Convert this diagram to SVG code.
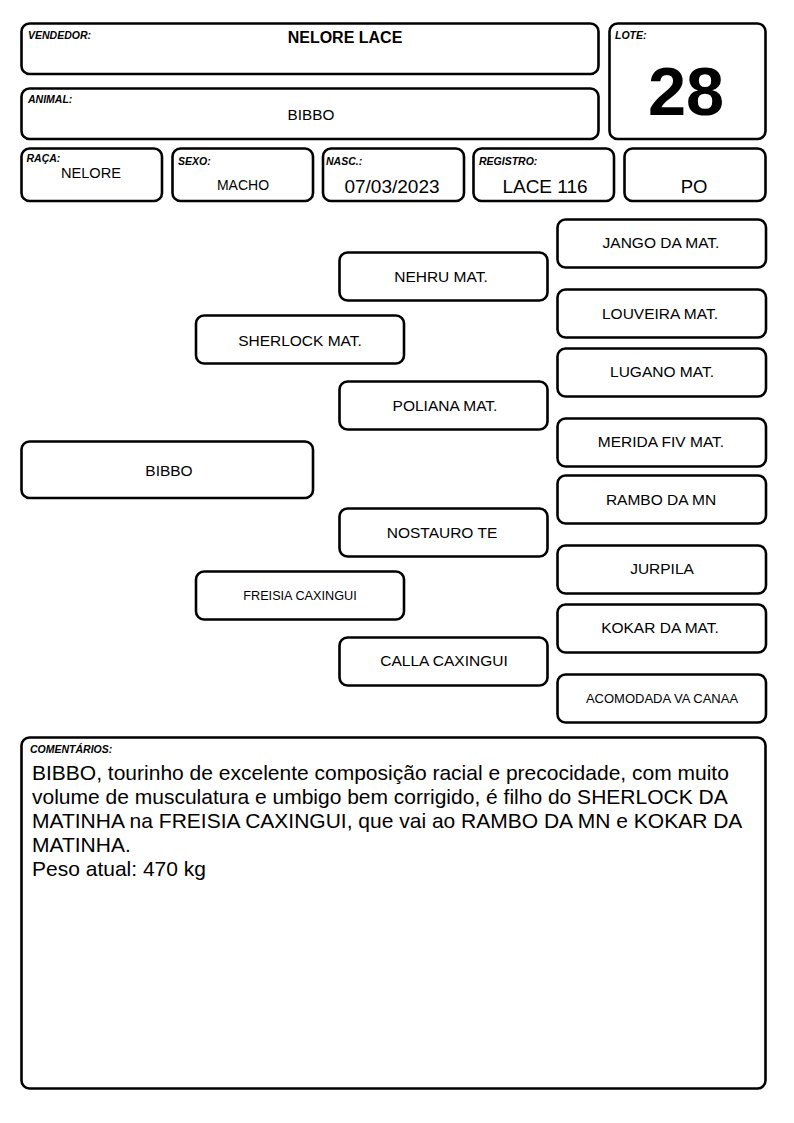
<svg xmlns="http://www.w3.org/2000/svg" width="794" height="1123" viewBox="0 0 794 1123">
<style>
.box{fill:#fff;stroke:#000;stroke-width:2.6}
.lbl{font-family:"Liberation Sans",Arial,sans-serif;font-size:10.5px;font-weight:bold;font-style:italic;fill:#000}
.val{font-family:"Liberation Sans",Arial,sans-serif;fill:#000;text-anchor:middle}
.ped{font-family:"Liberation Sans",Arial,sans-serif;font-size:15.5px;fill:#000;text-anchor:middle}
.sm{font-size:12.7px}
.xs{font-size:13px}
.cm{font-family:"Liberation Sans",Arial,sans-serif;font-size:21px;fill:#000}
</style>
<rect width="794" height="1123" fill="#fff"/>
<g id="vendedor">
<rect class="box" x="21.5" y="23.5" width="577" height="50.5" rx="8"/>
<text class="lbl" x="28" y="38.5">VENDEDOR:</text>
<text class="val" x="345" y="43" font-size="16" font-weight="bold">NELORE LACE</text>
</g>
<g id="animal">
<rect class="box" x="21.5" y="88.5" width="577" height="50.5" rx="8"/>
<text class="lbl" x="28" y="102.5">ANIMAL:</text>
<text class="val" x="311" y="119.5" font-size="15.3">BIBBO</text>
</g>
<g id="lote">
<rect class="box" x="609.5" y="23.5" width="156" height="115.5" rx="8"/>
<text class="lbl" x="615" y="38.5">LOTE:</text>
<text class="val" x="686" y="115" font-size="68.5" font-weight="bold">28</text>
</g>
<g id="raca">
<rect class="box" x="21.5" y="148.5" width="140.5" height="52.5" rx="8"/>
<text class="lbl" x="26.5" y="162">RAÇA:</text>
<text class="val" x="91" y="178" font-size="14.6">NELORE</text>
</g>
<g id="sexo">
<rect class="box" x="172.5" y="148.5" width="140.5" height="52.5" rx="8"/>
<text class="lbl" x="178" y="164.5">SEXO:</text>
<text class="val" x="243" y="189.5" font-size="14">MACHO</text>
</g>
<g id="nasc">
<rect class="box" x="323" y="148.5" width="141" height="52.5" rx="8"/>
<text class="lbl" x="326" y="164.5">NASC.:</text>
<text class="val" x="392" y="192.5" font-size="19">07/03/2023</text>
</g>
<g id="registro">
<rect class="box" x="473.5" y="148.5" width="140.5" height="52.5" rx="8"/>
<text class="lbl" x="479" y="164.5">REGISTRO:</text>
<text class="val" x="545" y="192.5" font-size="19">LACE 116</text>
</g>
<g id="po">
<rect class="box" x="624.5" y="148.5" width="141" height="52.5" rx="8"/>
<text class="val" x="694" y="192.5" font-size="18.5">PO</text>
</g>
<g id="connectors"></g>
<g id="ped-bibbo">
<rect class="box" x="21.5" y="441.5" width="291.5" height="56.5" rx="8"/>
<text class="ped" x="169" y="476">BIBBO</text>
</g>
<g id="ped-sherlock">
<rect class="box" x="196" y="315.5" width="208" height="48" rx="8"/>
<text class="ped" x="300" y="346">SHERLOCK MAT.</text>
</g>
<g id="ped-freisia">
<rect class="box" x="196" y="571.5" width="208" height="48" rx="8"/>
<text class="ped sm" x="300" y="600">FREISIA CAXINGUI</text>
</g>
<g id="ped-nehru">
<rect class="box" x="339.5" y="252.5" width="208" height="48" rx="8"/>
<text class="ped" x="441" y="282">NEHRU MAT.</text>
</g>
<g id="ped-poliana">
<rect class="box" x="339.5" y="381.5" width="208" height="48" rx="8"/>
<text class="ped" x="445" y="411">POLIANA MAT.</text>
</g>
<g id="ped-nostauro">
<rect class="box" x="339.5" y="508.5" width="208" height="48" rx="8"/>
<text class="ped" x="442" y="538">NOSTAURO TE</text>
</g>
<g id="ped-calla">
<rect class="box" x="339.5" y="637.5" width="208" height="48" rx="8"/>
<text class="ped" x="444" y="666">CALLA CAXINGUI</text>
</g>
<g id="ped-jango">
<rect class="box" x="557.5" y="219.5" width="208.5" height="48" rx="8"/>
<text class="ped" x="661" y="248">JANGO DA MAT.</text>
</g>
<g id="ped-louveira">
<rect class="box" x="557.5" y="289.5" width="208.5" height="48" rx="8"/>
<text class="ped" x="660" y="319">LOUVEIRA MAT.</text>
</g>
<g id="ped-lugano">
<rect class="box" x="557.5" y="348.5" width="208.5" height="48" rx="8"/>
<text class="ped" x="662" y="377">LUGANO MAT.</text>
</g>
<g id="ped-merida">
<rect class="box" x="557.5" y="418.5" width="208.5" height="48" rx="8"/>
<text class="ped" x="661" y="447">MERIDA FIV MAT.</text>
</g>
<g id="ped-rambo">
<rect class="box" x="557.5" y="475.5" width="208.5" height="48" rx="8"/>
<text class="ped" x="661" y="505">RAMBO DA MN</text>
</g>
<g id="ped-jurpila">
<rect class="box" x="557.5" y="545.5" width="208.5" height="48" rx="8"/>
<text class="ped" x="662" y="574">JURPILA</text>
</g>
<g id="ped-kokar">
<rect class="box" x="557.5" y="604.5" width="208.5" height="48" rx="8"/>
<text class="ped" x="660" y="633">KOKAR DA MAT.</text>
</g>
<g id="ped-acomodada">
<rect class="box" x="557.5" y="674.5" width="208.5" height="48" rx="8"/>
<text class="ped xs" x="662" y="703">ACOMODADA VA CANAA</text>
</g>
<g id="comentarios">
<rect class="box" x="21.5" y="737.5" width="744" height="351" rx="8"/>
<text class="lbl" x="30" y="752.5">COMENTÁRIOS:</text>
<text class="cm" x="32" y="780">BIBBO, tourinho de excelente composição racial e precocidade, com muito</text>
<text class="cm" x="32" y="804">volume de musculatura e umbigo bem corrigido, é filho do SHERLOCK DA</text>
<text class="cm" x="32" y="828">MATINHA na FREISIA CAXINGUI, que vai ao RAMBO DA MN e KOKAR DA</text>
<text class="cm" x="32" y="852">MATINHA.</text>
<text class="cm" x="32" y="876">Peso atual: 470 kg</text>
</g>
</svg>
